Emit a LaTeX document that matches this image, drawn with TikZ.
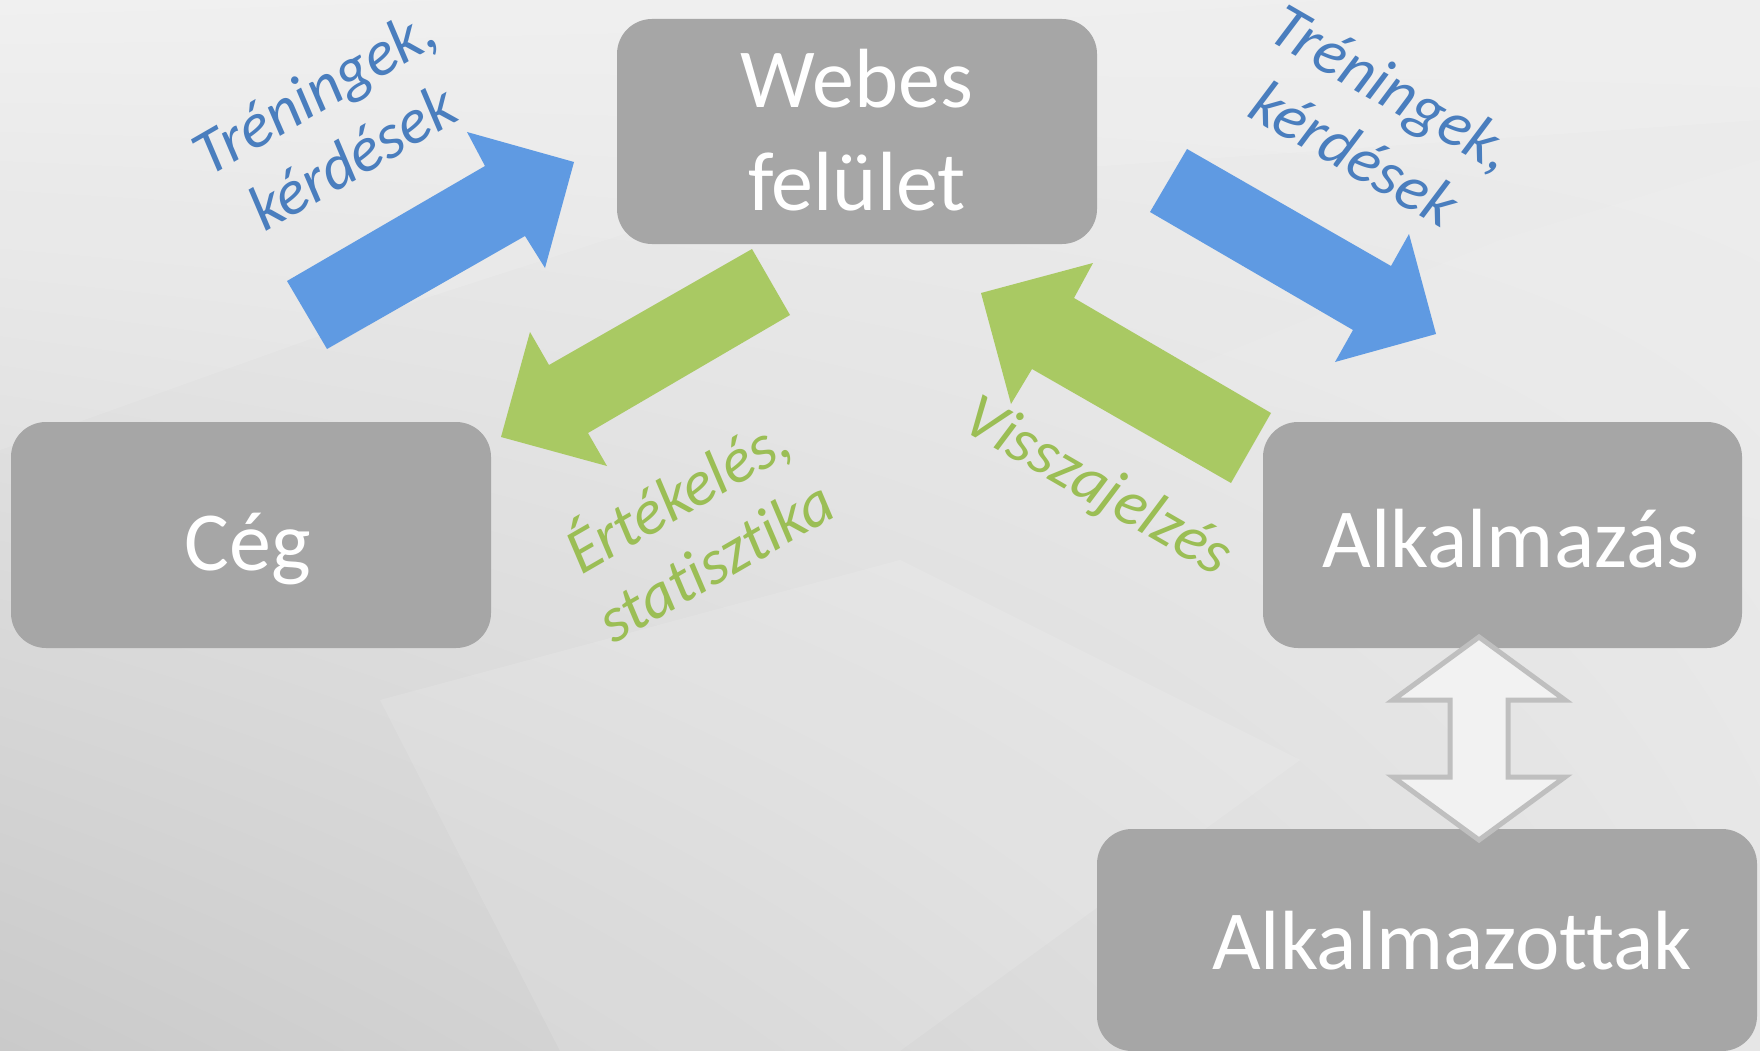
\documentclass[tikz,border=0pt]{standalone}
\usepackage{fontspec}
\usetikzlibrary{shadings}
\setmainfont{Carlito}[Ligatures={NoCommon}]
\definecolor{bgUL}{RGB}{238,238,238}
\definecolor{bgUR}{RGB}{236,236,236}
\definecolor{bgLL}{RGB}{202,202,202}
\definecolor{bgLR}{RGB}{230,230,230}
\definecolor{boxgray}{RGB}{166,166,166}
\definecolor{arrblue}{RGB}{95,154,226}
\definecolor{txtblue}{RGB}{74,126,190}
\definecolor{arrgreen}{RGB}{169,201,99}
\definecolor{txtgreen}{RGB}{155,190,85}
\definecolor{dblline}{RGB}{191,191,191}
\definecolor{dblfill}{RGB}{242,242,242}
\begin{document}
\begin{tikzpicture}[x=1pt,y=-1pt,
  box/.style={fill=boxgray,draw=none,rounded corners=35pt,inner sep=0pt},
  boxtext/.style={text=white,font=\fontsize{84}{100}\selectfont,anchor=base,inner sep=0pt},
  lbl/.style={font=\fontsize{64}{76}\selectfont\itshape,align=center,inner sep=0pt},
  facet/.style={fill=white,draw=none,opacity=0.12}]
\useasboundingbox (0,0) rectangle (1760,1051);
% background
\shade[upper left=bgUL, upper right=bgUR, lower left=bgLL, lower right=bgLR] (0,0) rectangle (1760,1051);
\fill[facet] (0,450) -- (420,300) -- (760,190) -- (1760,120) -- (1760,0) -- (0,0) -- cycle;
\fill[facet] (380,700) -- (900,560) -- (1300,760) -- (900,1051) -- (560,1051) -- cycle;
\fill[white,opacity=0.08] (1160,380) -- (1500,240) -- (1760,160) -- (1760,520) -- cycle;
% boxes
\node[box,minimum width=480pt,minimum height=225pt] (web) at (857,131.5) {};
\node[box,minimum width=480pt,minimum height=226pt] (ceg) at (251,535) {};
\node[box,minimum width=479pt,minimum height=226pt] (alk) at (1502.5,535) {};
\node[box,minimum width=660pt,minimum height=222pt] (alko) at (1427,940) {};
% box texts
\node[boxtext] (webA) at (857,108) {Webes};
\node[boxtext] (webB) at (857,210) {felület};
\node[boxtext] (cegT) at (248,570) {Cég};
\node[boxtext] (alkT) at (1511,567) {Alkalmazás};
\node[boxtext] (alkoT) at (1452,969) {Alkalmazottak};
% block arrows
\fill[arrblue] (287,281) -- (485,166) -- (467,132) -- (574,162) -- (545,268) -- (525,236) -- (327,349) -- cycle;
\fill[arrgreen] (752,249) -- (790,315) -- (588,433) -- (607,466) -- (501,437) -- (530,332) -- (549,365) -- cycle;
\fill[arrblue] (1187,149) -- (1391,266) -- (1409,234) -- (1436,334) -- (1335,362) -- (1353,330) -- (1150,212) -- cycle;
\fill[arrgreen] (1271,413) -- (1074,298) -- (1093,263) -- (981,293) -- (1011,404) -- (1032,369) -- (1231,483) -- cycle;
% double arrow
\draw[draw=dblline,fill=dblfill,line width=5pt,line join=miter]
  (1479,637) -- (1565,700) -- (1508,700) -- (1508,777) -- (1565,777) -- (1479,840)
  -- (1393,777) -- (1450,777) -- (1450,700) -- (1393,700) -- cycle;
% labels
\node[lbl,text=txtblue,rotate=30] (l1) at (333,124) {Tréningek,\\kérdések};
\node[lbl,text=txtblue,rotate=-30] (l2) at (1374,120) {Tréningek,\\kérdések};
\node[lbl,text=txtgreen,rotate=30] (l3) at (694,524) {Értékelés,\\statisztika};
\node[lbl,text=txtgreen,rotate=-30] (l4) at (1097,488) {Visszajelzés};
\end{tikzpicture}
\end{document}
